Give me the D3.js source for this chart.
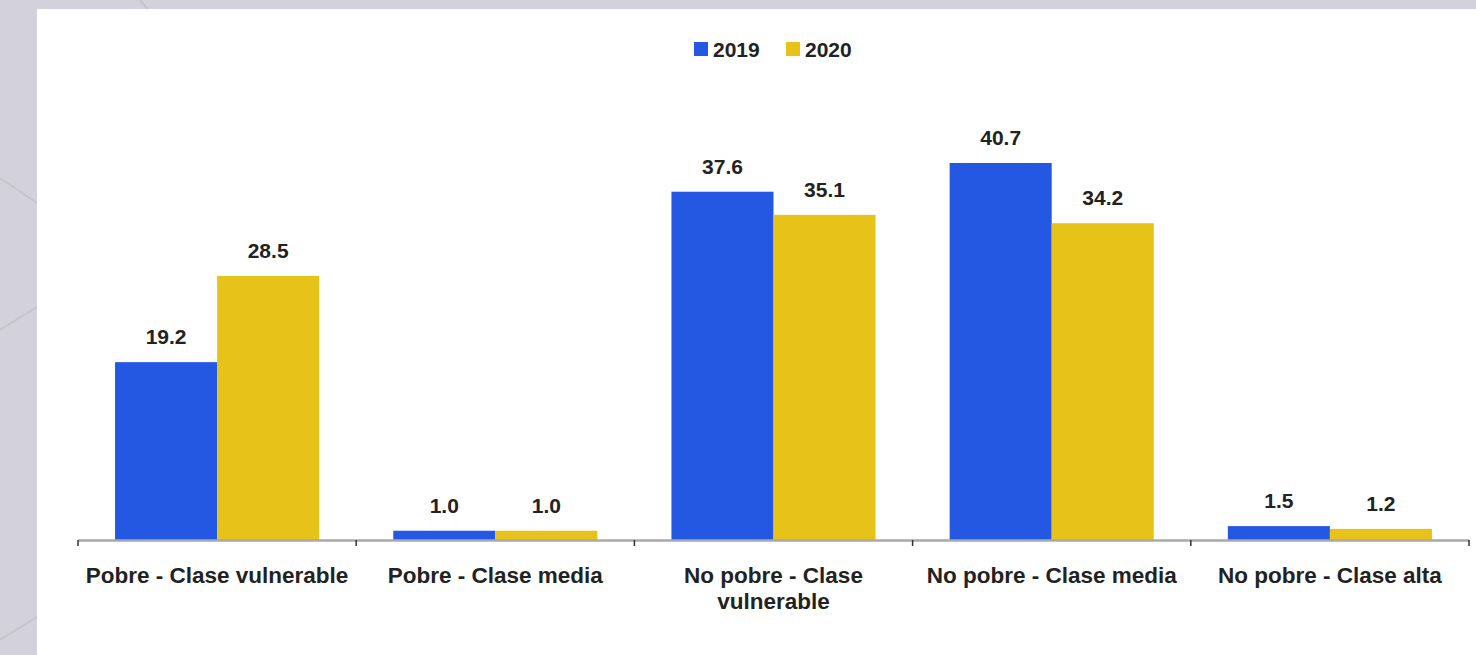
<!DOCTYPE html>
<html>
<head>
<meta charset="utf-8">
<script src="https://cdn.jsdelivr.net/npm/d3@7"></script>
<style>
  html, body { margin: 0; padding: 0; background: #d3d1dc; overflow: hidden; }
  svg { display: block; }
</style>
</head>
<body>
<svg id="chart" width="1476" height="655"></svg>
<script>
// Distribución de la población por condición de pobreza y clase social (%)
const categories = [
  ["Pobre - Clase vulnerable"],
  ["Pobre - Clase media"],
  ["No pobre - Clase", "vulnerable"],
  ["No pobre - Clase media"],
  ["No pobre - Clase alta"]
];
const seriesNames = ["2019", "2020"];
const values2019 = [19.2, 1.0, 37.6, 40.7, 1.5];
const values2020 = [28.5, 1.0, 35.1, 34.2, 1.2];
const colors = ["#2458e2", "#e7c31a"];

const W = 1476, H = 655;
const svg = d3.select("#chart");

// page backdrop with faint decorative strokes
const bg = svg.append("g");
bg.append("rect").attr("width", W).attr("height", H).attr("fill", "#d3d1dc");
[[0, 178, 40, 205], [0, 330, 40, 305], [0, 640, 40, 615], [140, 0, 150, 12]].forEach(l => {
  bg.append("line").attr("x1", l[0]).attr("y1", l[1]).attr("x2", l[2]).attr("y2", l[3])
    .attr("stroke", "#c9c3cc").attr("stroke-width", 2);
});
svg.append("rect").attr("x", 37).attr("y", 9).attr("width", W - 37).attr("height", H - 9).attr("fill", "#ffffff");

const x0 = 78, x1 = 1469, base = 540;
const x = d3.scaleBand().domain(d3.range(categories.length)).range([x0, x1]).paddingInner(0).paddingOuter(0);
const xs = d3.scaleBand().domain([0, 1]).range([0, x.bandwidth()]).paddingOuter(0.363).paddingInner(0);
const y = d3.scaleLinear().domain([0, 45]).range([base, base - 45 * 9.263]);

const font = "'Liberation Sans', Arial, sans-serif";
const series = [values2019, values2020];

const g = svg.append("g");
series.forEach((vals, si) => {
  g.selectAll(null).data(vals).enter().append("rect")
    .attr("x", (d, i) => x(i) + xs(si))
    .attr("y", d => y(d))
    .attr("width", xs.bandwidth())
    .attr("height", d => y(0) - y(d))
    .attr("fill", colors[si]);
  g.selectAll(null).data(vals).enter().append("text")
    .attr("x", (d, i) => x(i) + xs(si) + xs.bandwidth() / 2)
    .attr("y", d => y(d) - 18)
    .attr("text-anchor", "middle")
    .attr("font-family", font).attr("font-weight", "bold").attr("font-size", 21)
    .attr("fill", "#222")
    .text(d => d.toFixed(1));
});

// category axis
const axis = svg.append("g");
axis.append("line").attr("x1", x0).attr("x2", x1).attr("y1", base + 0.5).attr("y2", base + 0.5)
  .attr("stroke", "#a9a9a9").attr("stroke-width", 2.5);
d3.range(categories.length + 1).forEach(i => {
  const tx = x0 + i * x.bandwidth();
  axis.append("line").attr("x1", tx).attr("x2", tx).attr("y1", base).attr("y2", base + 6)
    .attr("stroke", "#333").attr("stroke-width", 1.5);
});
categories.forEach((lines, i) => {
  const t = axis.append("text")
    .attr("x", x(i) + x.bandwidth() / 2)
    .attr("y", 583)
    .attr("text-anchor", "middle")
    .attr("font-family", font).attr("font-weight", "bold").attr("font-size", 22.5)
    .attr("fill", "#222");
  lines.forEach((ln, k) => {
    t.append("tspan").attr("x", x(i) + x.bandwidth() / 2).attr("dy", k === 0 ? 0 : 26).text(ln);
  });
});

// legend
const legend = svg.append("g");
const legendPos = [694, 786];
seriesNames.forEach((name, si) => {
  legend.append("rect").attr("x", legendPos[si]).attr("y", 42).attr("width", 14).attr("height", 14).attr("fill", colors[si]);
  legend.append("text").attr("x", legendPos[si] + 19).attr("y", 57)
    .attr("font-family", font).attr("font-weight", "bold").attr("font-size", 21)
    .attr("fill", "#222").text(name);
});
</script>
</body>
</html>
